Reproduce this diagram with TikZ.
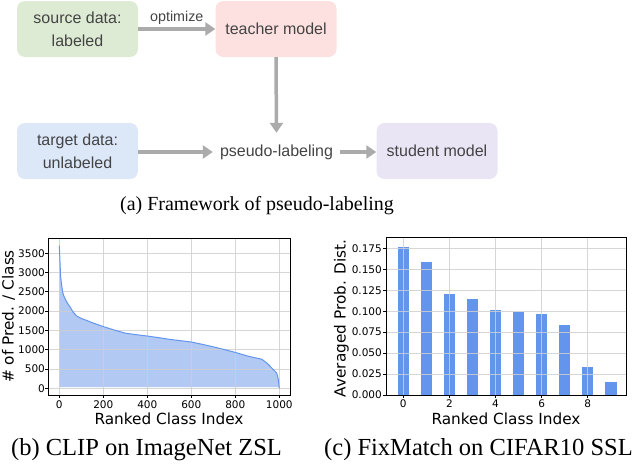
\documentclass[tikz,border=0pt]{standalone}
\usepackage{fontspec}
\setmainfont{Liberation Serif}
\newfontfamily\boxfont{Liberation Sans}
\newfontfamily\plotfont{DejaVu Sans}
\usetikzlibrary{arrows.meta}
\definecolor{srcgreen}{HTML}{DDEBD4}
\definecolor{teachpink}{HTML}{FDE0E0}
\definecolor{tgtblue}{HTML}{DCE7F8}
\definecolor{studlav}{HTML}{EAE5F5}
\definecolor{textgray}{HTML}{444444}
\definecolor{arrowgray}{HTML}{ABABAB}
\definecolor{lineblue}{HTML}{6495ED}
\definecolor{fillblue}{HTML}{B1C9F3}
\definecolor{gridc}{HTML}{CFCFCF}
\tikzset{
  box/.style={rounded corners=8pt, fill=#1, minimum width=121pt, minimum height=56pt,
    align=center, text=textgray, inner sep=0pt, font=\boxfont\fontsize{16}{23}\selectfont},
  flowarrow/.style={draw=arrowgray, line width=3.5pt, -{Triangle[length=10pt,width=13pt]}},
  gridline/.style={draw=gridc, line width=0.9pt, opacity=0.85},
  frameline/.style={draw=black, line width=0.9pt},
  ticklab/.style={font=\plotfont\fontsize{10.5}{12}\selectfont, inner sep=0pt},
  axlab/.style={font=\plotfont\fontsize{15.3}{17}\selectfont, inner sep=0pt},
  capt/.style={font=\fontsize{24.5}{28}\selectfont, inner sep=0pt, anchor=base},
}
\begin{document}
\begin{tikzpicture}[x=1pt,y=-1pt]
\useasboundingbox (0,0) rectangle (638,464);
% ---------- (a) framework ----------
\node[box=srcgreen] (src) at (77.5,29) {source data:\\labeled};
\node[box=teachpink] (teach) at (276,29) {teacher model};
\node[box=tgtblue] (tgt) at (77.5,151) {target data:\\unlabeled};
\node[box=studlav] (stud) at (437,151) {student model};
\node[minimum width=127pt, minimum height=38pt, inner sep=0pt, text=textgray,
      font=\boxfont\fontsize{16}{23}\selectfont] (pseudo) at (276.5,152) {pseudo-labeling};
\draw[flowarrow] (src.east) -- (teach.west)
  node[midway, above=3pt, text=textgray, inner sep=0pt, font=\boxfont\fontsize{14.3}{16}\selectfont] (opt) {optimize};
\draw[flowarrow] (teach.south) -- (pseudo.north);
\draw[flowarrow] (tgt.east |- pseudo.west) -- (pseudo.west);
\draw[flowarrow] (pseudo.east) -- (stud.west |- pseudo.east);
\node[font=\fontsize{20}{24}\selectfont, inner sep=0pt, anchor=base] (capa) at (257,210) {(a) Framework of pseudo-labeling};
% ---------- (b) CLIP plot ----------
\begin{scope}[shift={(59.3pt,-388.3pt)}, x=0.22pt, y=0.03858pt]
  \fill[fillblue] (0,28) -- (0,3700) -- (3,3300) -- (6,2900) -- (10,2700) -- (15,2500) -- (20,2400)
    -- (30,2280) -- (40,2180) -- (50,2100) -- (60,2000) -- (70,1930) -- (80,1870) -- (100,1810)
    -- (120,1770) -- (150,1700) -- (200,1600) -- (250,1510) -- (300,1430) -- (350,1390)
    -- (400,1355) -- (450,1315) -- (500,1270) -- (550,1235) -- (600,1200) -- (650,1140)
    -- (700,1075) -- (750,1005) -- (800,930) -- (860,830) -- (900,780) -- (920,755)
    -- (945,650) -- (970,500) -- (988,400) -- (995,250) -- (1000,28) -- cycle;
  \foreach \v in {0,200,...,1000} \draw[gridline] (\v,-174) -- (\v,3896);
  \foreach \v in {0,500,...,3500} \draw[gridline] (-51,\v) -- (1049,\v);
  \draw[lineblue, line width=1pt, line join=round] (0,3700) -- (3,3300) -- (6,2900) -- (10,2700) -- (15,2500) -- (20,2400)
    -- (30,2280) -- (40,2180) -- (50,2100) -- (60,2000) -- (70,1930) -- (80,1870) -- (100,1810)
    -- (120,1770) -- (150,1700) -- (200,1600) -- (250,1510) -- (300,1430) -- (350,1390)
    -- (400,1355) -- (450,1315) -- (500,1270) -- (550,1235) -- (600,1200) -- (650,1140)
    -- (700,1075) -- (750,1005) -- (800,930) -- (860,830) -- (900,780) -- (920,755)
    -- (945,650) -- (970,500) -- (988,400) -- (995,250) -- (1000,0);
  \draw[frameline] (-51,-174) rectangle (1049,3896);
  \foreach \v in {0,200,...,1000} {
    \draw[line width=0.8pt] (\v,-174) -- ++(0pt,-3pt);
    \node[ticklab, anchor=north] (bx\v) at ([yshift=-5pt]\v,-174) {\v};
  }
  \foreach \v in {0,500,...,3500} {
    \draw[line width=0.8pt] (-51,\v) -- ++(-3pt,0pt);
    \node[ticklab, anchor=east] (by\v) at ([xshift=-3pt]-51,\v) {\v};
  }
\end{scope}
\node[axlab] (bxl) at (169,419) {Ranked Class Index};
\node[axlab, rotate=90] (byl) at (8.5,316.5) {\# of Pred. / Class};
\node[capt] (capb) at (146.5,455) {(b) CLIP on ImageNet ZSL};
% ---------- (c) FixMatch plot ----------
\begin{scope}[shift={(403.3pt,-395pt)}, x=23.05pt, y=838pt]
  \foreach \i/\h in {0/0.177,1/0.159,2/0.120,3/0.115,4/0.102,5/0.099,6/0.097,7/0.084,8/0.033,9/0.016}
    \fill[lineblue] (\i-0.25,0) rectangle (\i+0.25,\h);
  \foreach \v in {0,2,...,8} \draw[gridline] (\v,0) -- (\v,0.1885);
  \foreach \v in {0.025,0.050,0.075,0.100,0.125,0.150,0.175} \draw[gridline] (-0.75,\v) -- (9.66,\v);
  \draw[frameline] (-0.75,0) rectangle (9.66,0.1885);
  \foreach \v in {0,2,4,6,8} {
    \draw[line width=0.8pt] (\v,0) -- ++(0pt,-3pt);
    \node[ticklab, anchor=north] (cx\v) at ([yshift=-5pt]\v,0) {\v};
  }
  \foreach \v/\n in {0/0.000,0.025/0.025,0.05/0.050,0.075/0.075,0.1/0.100,0.125/0.125,0.15/0.150,0.175/0.175} {
    \draw[line width=0.8pt] (-0.75,\v) -- ++(-3pt,0pt);
    \node[ticklab, anchor=east] (cy\n) at ([xshift=-4pt]-0.75,\v) {\n};
  }
\end{scope}
\node[axlab] (cxl) at (506,419) {Ranked Class Index};
\node[axlab, rotate=90] (cyl) at (341.5,318.5) {Averaged Prob. Dist.};
\node[capt] (capc) at (478.5,455) {(c) FixMatch on CIFAR10 SSL};
\end{tikzpicture}
\end{document}
